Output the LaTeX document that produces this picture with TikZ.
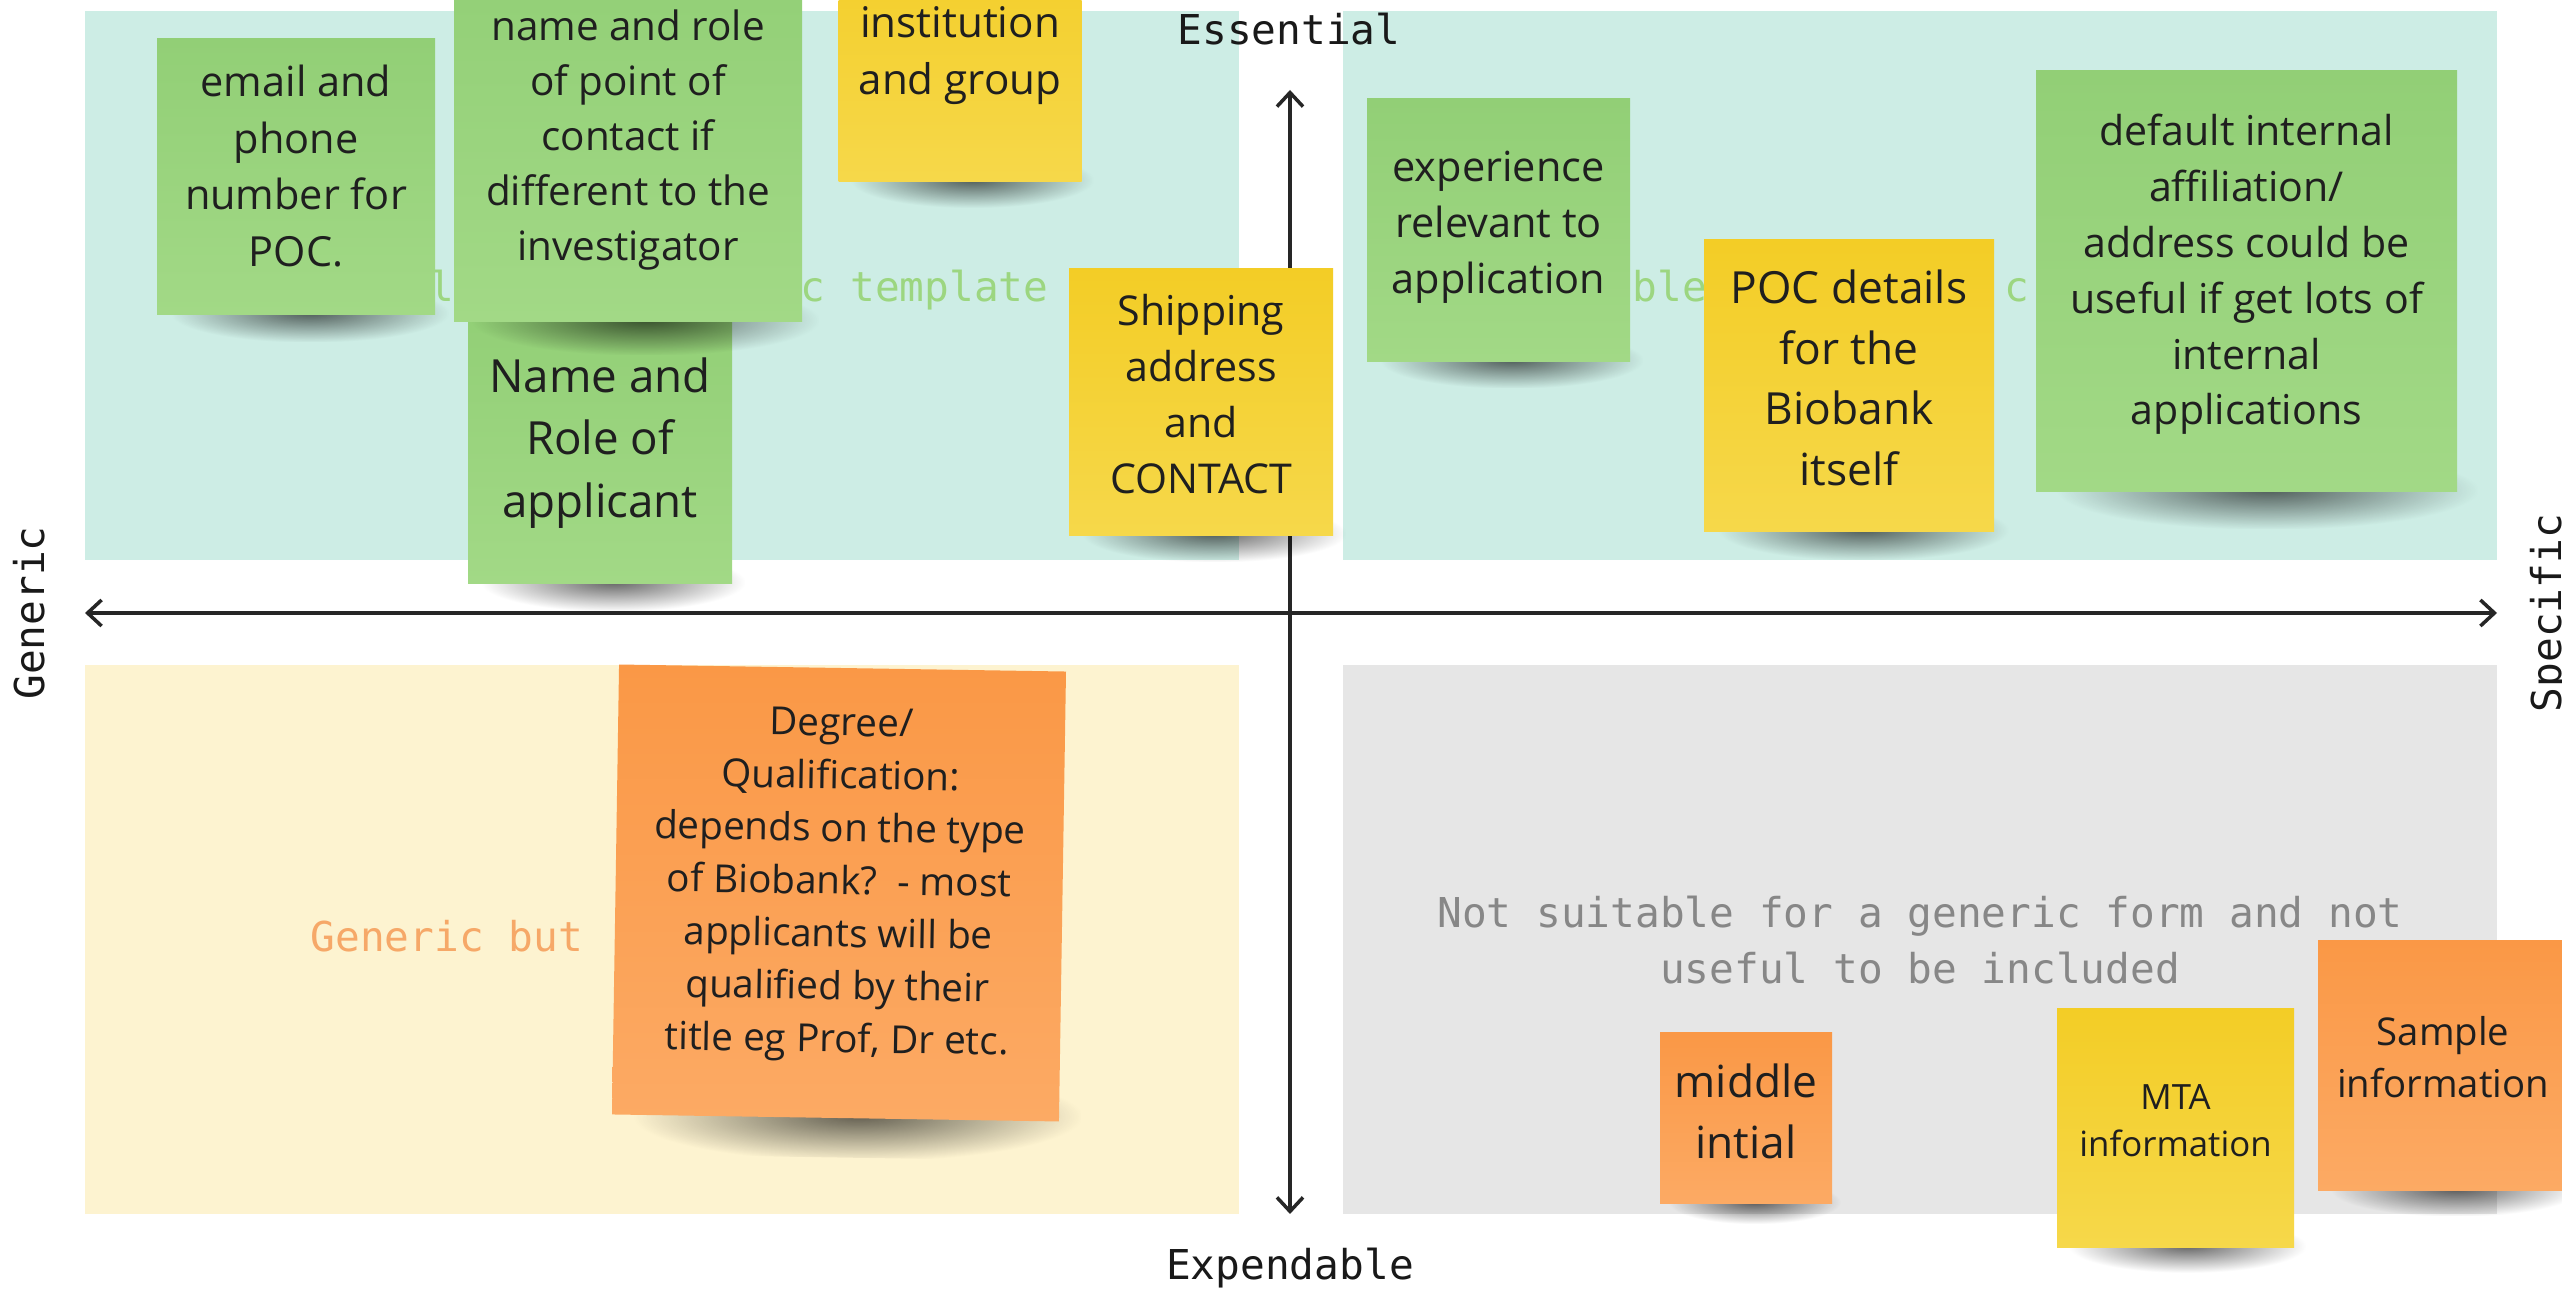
\documentclass[tikz,border=0pt]{standalone}
\usepackage{fontspec}
\setmainfont{Open Sans}
\setmonofont{DejaVu Sans Mono}
\usetikzlibrary{arrows.meta,fadings}
\definecolor{qteal}{RGB}{205,237,229}
\definecolor{qcream}{RGB}{253,243,208}
\definecolor{qgrey}{RGB}{230,230,230}
\definecolor{sgreen}{RGB}{146,207,118}
\definecolor{sgreenL}{RGB}{162,217,134}
\definecolor{syellow}{RGB}{243,205,38}
\definecolor{syellowL}{RGB}{246,216,74}
\definecolor{sorange}{RGB}{250,152,70}
\definecolor{sorangeL}{RGB}{252,170,100}
\definecolor{tgreen}{RGB}{156,214,128}
\definecolor{torange}{RGB}{246,168,104}
\definecolor{tgrey}{RGB}{135,135,135}
\tikzfading[name=shfade, inner color=transparent!0, outer color=transparent!100]
\tikzset{
  monotext/.style={font=\ttfamily\fontsize{11.7}{15.7}\selectfont, inner sep=0pt},
  axislabel/.style={monotext, text=black!90},
  axisline/.style={line width=1pt, draw=black!85, <->, >={Straight Barb[length=1.4mm,width=2.6mm]}},
  stickybase/.style={rectangle, inner sep=0pt},
  stickytext/.style={inner sep=0pt, align=center, text=black!88},
  greenpad/.style={top color=sgreen, bottom color=sgreenL},
  yellowpad/.style={top color=syellow, bottom color=syellowL},
  orangepad/.style={top color=sorange, bottom color=sorangeL},
}
% #1 name, #2 cx, #3 cy, #4 w, #5 h, #6 style, #7 font, #8 text, #9 text raise (cm)
\newcommand\sticky[9]{%
  \fill[black, opacity=0.6, path fading=shfade]
    ({#2+0.05*#4-0.5*#4},{#3-0.5*#5+0.02-(0.10+0.07*#5)})
    rectangle ({#2+0.05*#4+0.5*#4},{#3-0.5*#5+0.02+(0.10+0.07*#5)});
  \node[stickybase, #6, minimum width=#4cm, minimum height=#5cm] (#1) at (#2,#3) {};
  \node[stickytext, font={#7}, yshift=#9cm] (#1-txt) at (#1.center) {#8};
}
\begin{document}
\begin{tikzpicture}
\useasboundingbox (0,0) rectangle (25.62,-12.91);
\clip (0,0) rectangle (25.62,-12.91);
\fill[white] (0,0) rectangle (25.62,-12.91);

% quadrants
\fill[qteal] (0.85,-0.11) rectangle (12.39,-5.60);
\fill[qteal] (13.43,-0.11) rectangle (24.97,-5.60);
\fill[qcream] (0.85,-6.65) rectangle (12.39,-12.14);
\fill[qgrey] (13.43,-6.65) rectangle (24.97,-12.14);

% quadrant labels (only the parts not hidden by notes)
\node[monotext, text=tgreen, anchor=base west] (qtl1) at (4.286,-3.02) {l};
\node[monotext, text=tgreen, anchor=base west] (qtl2) at (8.002,-3.02) {c template};
\node[monotext, text=tgreen, anchor=base west] (qtr1) at (16.319,-3.02) {ble};
\node[monotext, text=tgreen, anchor=base west] (qtr2) at (20.034,-3.02) {c};
\node[monotext, text=torange, anchor=base west] (qbl) at (3.10,-9.52) {Generic but};
\node[monotext, text=tgrey, align=center] (qbr) at (19.20,-9.40) {Not suitable for a generic form and not\\useful to be included};

% axes
\coordinate (xl) at (0.85,-6.13);
\coordinate (xr) at (24.97,-6.13);
\coordinate (yt) at (12.90,-0.90);
\coordinate (yb) at (12.90,-12.14);
\draw[axisline] (xl) -- (xr);
\draw[axisline] (yt) -- (yb);

\node[axislabel, anchor=base] (ess) at (12.89,-0.45) {Essential};
\node[axislabel, anchor=base] (exd) at (12.90,-12.80) {Expendable};
\node[axislabel, rotate=90, anchor=base] (gen) at (0.44,-6.13) {Generic};
\node[axislabel, rotate=90, anchor=base] (spe) at (25.61,-6.13) {Specific};

% sticky notes
\sticky{email}{2.96}{-1.77}{2.78}{2.76}{greenpad}{\fontsize{11.8}{16.1}\selectfont}{email and\\phone\\number for\\POC.}{0.11}
\sticky{applicant}{6.00}{-4.45}{2.64}{2.78}{greenpad}{\fontsize{13}{17.7}\selectfont}{Name and\\Role of\\applicant}{0.02}
\sticky{contactrole}{6.28}{-1.40}{3.48}{3.64}{greenpad}{\fontsize{11.5}{15.7}\selectfont}{name and role\\of point of\\contact if\\different to the\\investigator}{0}
\sticky{institution}{9.60}{-0.545}{2.43}{2.55}{yellowpad}{\fontsize{12}{16.3}\selectfont}{institution\\and group}{-0.01}
\sticky{shipping}{12.01}{-4.02}{2.64}{2.67}{yellowpad}{\fontsize{11.7}{15.9}\selectfont}{Shipping\\address\\and\\CONTACT}{0.08}
\sticky{experience}{14.985}{-2.305}{2.63}{2.63}{greenpad}{\fontsize{11.8}{16}\selectfont}{experience\\relevant to\\application}{0.03}
\sticky{pocbio}{18.49}{-3.86}{2.90}{2.92}{yellowpad}{\fontsize{12.6}{17.2}\selectfont}{POC details\\for the\\Biobank\\itself}{0.08}
\sticky{affiliation}{22.465}{-2.815}{4.21}{4.21}{greenpad}{\fontsize{11.7}{15.9}\selectfont}{default internal\\affiliation/\\address could be\\useful if get lots of\\internal\\applications}{0.07}
\begin{scope}[rotate around={-0.9:(8.39,-8.93)}, transform shape]
\sticky{degree}{8.39}{-8.93}{4.47}{4.50}{orangepad}{\fontsize{11}{15}\selectfont}{Degree/\\Qualification:\\depends on the type\\of Biobank?\ \ - most\\applicants will be\\qualified by their\\title eg Prof, Dr etc.}{0.08}
\end{scope}
\sticky{middle}{17.46}{-11.185}{1.72}{1.71}{orangepad}{\fontsize{12.6}{17.2}\selectfont}{middle\\intial}{0.07}
\sticky{mta}{21.755}{-11.285}{2.37}{2.39}{yellowpad}{\fontsize{9.9}{13.5}\selectfont}{MTA\\information}{0.08}
\sticky{sample}{24.43}{-10.66}{2.50}{2.50}{orangepad}{\fontsize{10.9}{14.9}\selectfont}{Sample\\information}{0.09}
\end{tikzpicture}
\end{document}
